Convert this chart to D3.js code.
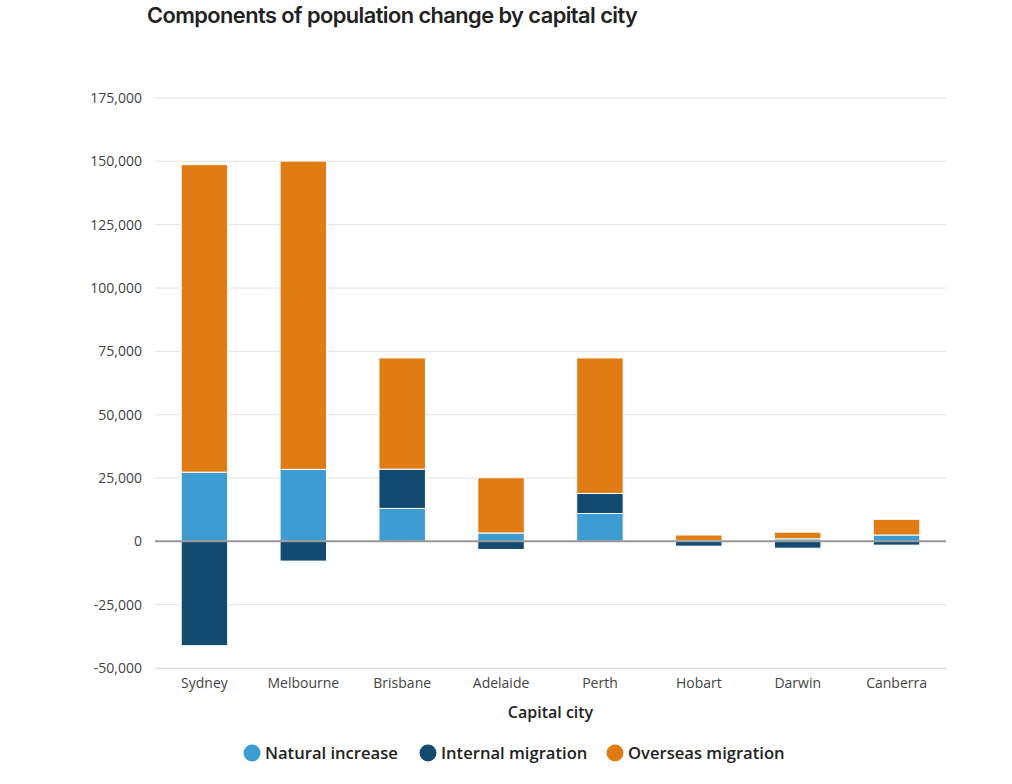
<!DOCTYPE html>
<html lang="en">
<head>
<meta charset="utf-8" />
<title>Components of population change by capital city</title>
<script src="https://cdn.jsdelivr.net/npm/d3@7"></script>
<style>
  body { margin: 0; background: #fff; }
  svg { display: block; }
</style>
</head>
<body>
<svg id="chart" width="1012" height="784"></svg>
<script>
// chart data
const cities = ["Sydney", "Melbourne", "Brisbane", "Adelaide", "Perth", "Hobart", "Darwin", "Canberra"];
const naturalIncrease = [27300, 28400, 13000, 3300, 11000, 300, 1000, 2500];
const internalMigration = [-41200, -7800, 15500, -3200, 7900, -1900, -2700, -1500];
const overseasMigration = [121400, 121700, 43900, 21800, 53500, 2200, 2600, 6200];
const seriesNames = ["Natural increase", "Internal migration", "Overseas migration"];
const yTicks = [-50000, -25000, 0, 25000, 50000, 75000, 100000, 125000, 150000, 175000];

const colors = ["#3d9dd2", "#134a70", "#df7c13"];
const keys = ["natural", "internal", "overseas"];

const rows = cities.map((c, i) => ({
  city: c,
  natural: naturalIncrease[i],
  internal: internalMigration[i],
  overseas: overseasMigration[i]
}));

const svg = d3.select("#chart");
const margin = {top: 98, right: 66, bottom: 116, left: 155};
const width = +svg.attr("width");
const height = +svg.attr("height");

const x = d3.scaleBand()
  .domain(cities)
  .range([margin.left, width - margin.right])
  .paddingInner(0.53)
  .paddingOuter(0.265);

const y = d3.scaleLinear()
  .domain([-50000, 175000])
  .range([height - margin.bottom, margin.top]);

// plain hyphen for negatives, like the original
const fmt = d => d3.format(",")(d).replace("\u2212", "-");

// gridlines
svg.append("g")
  .selectAll("line")
  .data(yTicks)
  .join("line")
    .attr("x1", margin.left)
    .attr("x2", width - margin.right)
    .attr("y1", d => y(d))
    .attr("y2", d => y(d))
    .attr("stroke", "#e4e4e4")
    .attr("stroke-width", 1);

// y axis labels
const yAxis = svg.append("g")
  .attr("transform", `translate(${margin.left - 10},0)`)
  .call(d3.axisLeft(y).tickValues(yTicks).tickSize(0).tickFormat(fmt));
yAxis.select(".domain").remove();
yAxis.selectAll(".tick text")
  .attr("font-family", "Open Sans")
  .attr("font-size", "14px")
  .attr("fill", "#444");

// stacked bars
const stack = d3.stack().keys(keys).offset(d3.stackOffsetDiverging);
const series = stack(rows);

svg.append("g")
  .selectAll("g")
  .data(series)
  .join("g")
    .attr("fill", (d, i) => colors[i])
  .selectAll("rect")
  .data(d => d)
  .join("rect")
    .attr("x", d => x(d.data.city))
    .attr("width", x.bandwidth())
    .attr("y", d => y(Math.max(d[0], d[1])))
    .attr("height", d => Math.abs(y(d[0]) - y(d[1])))
    .attr("stroke", "#fff")
    .attr("stroke-width", 1);

// zero line
svg.append("line")
  .attr("x1", margin.left)
  .attr("x2", width - margin.right)
  .attr("y1", y(0))
  .attr("y2", y(0))
  .attr("stroke", "#999")
  .attr("stroke-width", 2);

// x axis
const xAxis = svg.append("g")
  .attr("transform", `translate(0,${height - margin.bottom})`)
  .call(d3.axisBottom(x).tickSize(0).tickPadding(10));
xAxis.select(".domain").attr("stroke", "#ddd");
xAxis.selectAll(".tick text")
  .attr("font-family", "Open Sans")
  .attr("font-size", "14px")
  .attr("fill", "#444");

svg.append("text")
  .attr("x", (margin.left + width - margin.right) / 2)
  .attr("y", 718)
  .attr("text-anchor", "middle")
  .attr("font-family", "Open Sans")
  .attr("font-weight", "600")
  .attr("font-size", "16px")
  .attr("fill", "#222")
  .text("Capital city");

// title
svg.append("text")
  .attr("x", 147)
  .attr("y", 23)
  .attr("font-family", "Inter")
  .attr("font-weight", "600")
  .attr("font-size", "21.8px")
  .attr("letter-spacing", "-0.55px")
  .attr("fill", "#222")
  .text("Components of population change by capital city");

// legend
const legendX = [252, 428, 615];
const legend = svg.append("g")
  .selectAll("g")
  .data(seriesNames)
  .join("g")
    .attr("transform", (d, i) => `translate(${legendX[i]},753)`);
legend.append("circle")
  .attr("r", 8.5)
  .attr("fill", (d, i) => colors[i]);
legend.append("text")
  .attr("x", 13)
  .attr("dy", "0.35em")
  .attr("font-family", "Open Sans")
  .attr("font-weight", "600")
  .attr("font-size", "16.6px")
  .attr("fill", "#222")
  .text(d => d);
</script>
</body>
</html>
